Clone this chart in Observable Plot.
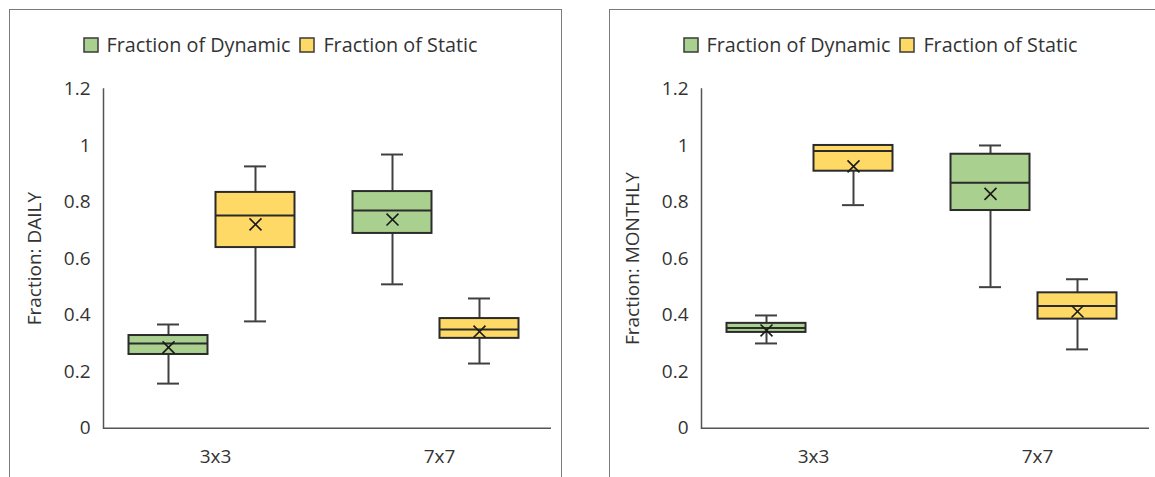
<!DOCTYPE html>
<html>
<head>
<meta charset="utf-8">
<script src="https://cdn.jsdelivr.net/npm/d3@7"></script>
<script src="https://cdn.jsdelivr.net/npm/@observablehq/plot@0.6"></script>
<style>
  html, body { margin: 0; padding: 0; background: #fff; }
  #root { position: relative; width: 1155px; height: 477px; overflow: hidden; font-family: "Open Sans", sans-serif; }
  .panel { position: absolute; top: 9px; width: 553px; height: 600px; border: 1.5px solid #7a7a7a; box-sizing: border-box; }
  .legendbox { position: absolute; top: 31px; width: 553px; display: flex; justify-content: center; }
  .chart { position: absolute; top: 60px; }
  .lg-swatches { font-family: "Open Sans", sans-serif !important; font-size: 19.8px !important; color: #333 !important; min-height: 0 !important; margin: 0 !important; }
  .lg-swatch { margin-right: 10px !important; }
  .lg-swatch > svg { margin-right: 9px !important; overflow: visible; }
  .lg-swatch > svg rect { stroke: #3a3a3a; stroke-width: 1.5px; }
</style>
</head>
<body>
<div id="root"></div>
<script>
// ---- data ----
const categories = ["3x3", "7x7"];
const series = ["Fraction of Dynamic", "Fraction of Static"];
const seriesColors = ["#a9d08e", "#ffd966"];
const yTicks = [0, 0.2, 0.4, 0.6, 0.8, 1, 1.2];

// box order: Dynamic 3x3, Static 3x3, Dynamic 7x7, Static 7x7
const boxCategory = ["3x3", "3x3", "7x7", "7x7"];
const boxSeries = ["Fraction of Dynamic", "Fraction of Static", "Fraction of Dynamic", "Fraction of Static"];

const dailyMin    = [0.158, 0.378, 0.509, 0.229];
const dailyQ1     = [0.261, 0.639, 0.689, 0.318];
const dailyMedian = [0.300, 0.752, 0.770, 0.349];
const dailyQ3     = [0.328, 0.834, 0.837, 0.388];
const dailyMax    = [0.367, 0.926, 0.968, 0.459];
const dailyMean   = [0.286, 0.721, 0.738, 0.342];

const monthlyMin    = [0.300, 0.789, 0.499, 0.279];
const monthlyQ1     = [0.339, 0.909, 0.770, 0.386];
const monthlyMedian = [0.355, 0.980, 0.868, 0.432];
const monthlyQ3     = [0.371, 1.000, 0.969, 0.479];
const monthlyMax    = [0.399, 1.000, 1.000, 0.527];
const monthlyMean   = [0.346, 0.926, 0.829, 0.413];

// ---- styling ----
const seriesDx = {"Fraction of Dynamic": -47, "Fraction of Static": 40};
const boxInset = 72.5;   // box half-gap inside the category band
const capInset = 101;    // whisker cap inset
const ink = "#333333";

function rows(mn, q1, md, q3, mx, mean) {
  return boxCategory.map((c, i) => ({
    category: c, series: boxSeries[i],
    min: mn[i], q1: q1[i], median: md[i], q3: q3[i], max: mx[i], mean: mean[i]
  }));
}

function panel(left, marginLeft, label, data) {
  const root = document.getElementById("root");
  const frame = document.createElement("div");
  frame.className = "panel";
  frame.style.left = left + "px";
  root.appendChild(frame);

  const lgBox = document.createElement("div");
  lgBox.className = "legendbox";
  lgBox.style.left = left + "px";
  lgBox.appendChild(Plot.legend({
    color: {type: "ordinal", domain: series, range: seriesColors},
    legend: "swatches", swatchSize: 14, className: "lg"
  }));
  root.appendChild(lgBox);

  const marks = [
    Plot.axisY({ticks: yTicks, tickSize: 0, tickPadding: 13, tickFormat: d => String(+d.toFixed(1)),
      label, labelAnchor: "center", labelOffset: 76, labelArrow: "none", fontSize: 19, color: ink}),
    Plot.axisX({tickSize: 0, tickPadding: 21, label: null, fontSize: 19, color: ink}),
    Plot.frame({anchor: "left", stroke: "#555", strokeWidth: 1.5}),
    Plot.ruleY([0], {stroke: "#555", strokeWidth: 1.5})
  ];
  for (const s of series) {
    const dx = seriesDx[s];
    const filter = d => d.series === s;
    marks.push(
      Plot.ruleX(data, {filter, x: "category", y1: "min", y2: "q1", dx, stroke: "#404040", strokeWidth: 2}),
      Plot.ruleX(data, {filter, x: "category", y1: "q3", y2: "max", dx, stroke: "#404040", strokeWidth: 2}),
      Plot.tickY(data, {filter, x: "category", y: "min", dx, insetLeft: capInset, insetRight: capInset, stroke: "#404040", strokeWidth: 2}),
      Plot.tickY(data, {filter, x: "category", y: "max", dx, insetLeft: capInset, insetRight: capInset, stroke: "#404040", strokeWidth: 2}),
      Plot.barY(data, {filter, x: "category", y1: "q1", y2: "q3", fill: "series", dx, insetLeft: boxInset, insetRight: boxInset, stroke: "#2b2b2b", strokeWidth: 2}),
      Plot.tickY(data, {filter, x: "category", y: "median", dx, insetLeft: boxInset, insetRight: boxInset, stroke: "#2b2b2b", strokeWidth: 2}),
      Plot.dot(data, {filter, x: "category", y: "mean", dx, symbol: "times", r: 5.5, stroke: "#1a1a1a", strokeWidth: 1.6})
    );
  }

  const chart = Plot.plot({
    width: 553, height: 417,
    marginLeft, marginRight: 553 - marginLeft - 448, marginTop: 28.4, marginBottom: 49.2,
    style: {fontFamily: "'Open Sans', sans-serif", fontSize: "19px", color: ink, background: "transparent", overflow: "visible"},
    x: {type: "band", domain: categories, padding: 0, axis: null},
    y: {domain: [0, 1.2], axis: null},
    color: {domain: series, range: seriesColors},
    marks
  });
  chart.classList.add("chart");
  chart.style.left = left + "px";
  root.appendChild(chart);
}

panel(9, 94, "Fraction: DAILY", rows(dailyMin, dailyQ1, dailyMedian, dailyQ3, dailyMax, dailyMean));
panel(609, 92, "Fraction: MONTHLY", rows(monthlyMin, monthlyQ1, monthlyMedian, monthlyQ3, monthlyMax, monthlyMean));
</script>
</body>
</html>
